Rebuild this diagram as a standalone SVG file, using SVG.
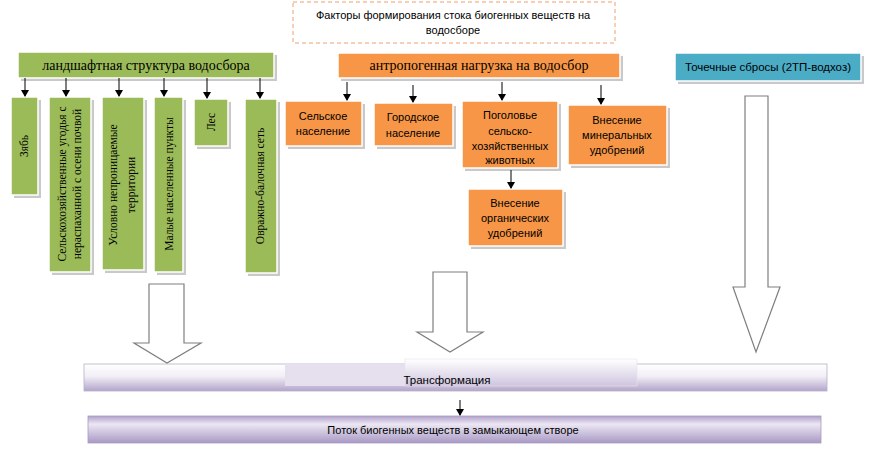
<svg xmlns="http://www.w3.org/2000/svg" width="879" height="463" viewBox="0 0 879 463">
<defs>
<style>
.sh{fill:#c9c9c9}
.g{fill:#9bbb59;stroke:#ffffff;stroke-width:1.5}
.o{fill:#f79646;stroke:#ffffff;stroke-width:1.5}
.b{fill:#4bacc6;stroke:#ffffff;stroke-width:1.5}
.serif{font-family:"Liberation Serif","Times New Roman",serif;fill:#000}
.sans{font-family:"Liberation Sans",Arial,sans-serif;fill:#000}
.ln{stroke:#000;stroke-width:1;fill:none}
.big{fill:#fff;stroke:#7f7f7f;stroke-width:1.2}
</style>
<marker id="ah" markerWidth="8" markerHeight="8" refX="6" refY="4" orient="auto" markerUnits="userSpaceOnUse">
<path d="M0,0 L7,4 L0,8 Z" fill="#000"/>
</marker>
<linearGradient id="gt" x1="0" y1="0" x2="0" y2="1">
<stop offset="0" stop-color="#ffffff"/>
<stop offset="0.45" stop-color="#f2eff6"/>
<stop offset="1" stop-color="#b3a5cc"/>
</linearGradient>
<linearGradient id="gt2" x1="0" y1="0" x2="0" y2="1">
<stop offset="0" stop-color="#ffffff"/>
<stop offset="1" stop-color="#cfc5df"/>
</linearGradient>
<linearGradient id="gp" x1="0" y1="0" x2="0" y2="1">
<stop offset="0" stop-color="#b0a1ca"/>
<stop offset="0.3" stop-color="#ece7f3"/>
<stop offset="1" stop-color="#a899c4"/>
</linearGradient>
</defs>

<g id="title">
<rect x="293" y="2" width="322" height="41" fill="#fff" stroke="#f0a070" stroke-width="1" stroke-dasharray="4,3"/>
<text class="sans" font-size="11" text-anchor="middle" x="453" y="19">Факторы формирования стока биогенных веществ на</text>
<text class="sans" font-size="11" text-anchor="middle" x="453" y="34">водосборе</text>
</g>

<g id="landscape">
<rect class="sh" x="21" y="55" width="256" height="26"/>
<rect class="g" x="18" y="52" width="256" height="26"/>
<text class="serif" font-size="14" text-anchor="middle" x="146" y="70">ландшафтная структура водосбора</text>
</g>

<g id="zyab">
<rect class="sh" x="14" y="100" width="27" height="98"/>
<rect class="g" x="11" y="97" width="27" height="98"/>
<text class="serif" font-size="11.5" text-anchor="middle" transform="translate(28,146) rotate(-90)">Зябь</text>
</g>
<g id="ugodya">
<rect class="sh" x="52" y="100" width="42" height="175"/>
<rect class="g" x="49" y="97" width="42" height="175"/>
<text class="serif" font-size="11.5" text-anchor="middle" transform="translate(66,184) rotate(-90)">Сельскохозяйственные угодья с</text>
<text class="serif" font-size="11.5" text-anchor="middle" transform="translate(81,184) rotate(-90)">нераспаханной с осени почвой</text>
</g>
<g id="usl">
<rect class="sh" x="105" y="100" width="42" height="173"/>
<rect class="g" x="102" y="97" width="42" height="173"/>
<text class="serif" font-size="11.5" text-anchor="middle" transform="translate(117,185) rotate(-90)">Условно непроницаемые</text>
<text class="serif" font-size="11.5" text-anchor="middle" transform="translate(135,185) rotate(-90)">территории</text>
</g>
<g id="malye">
<rect class="sh" x="157" y="100" width="29" height="175"/>
<rect class="g" x="154" y="97" width="29" height="175"/>
<text class="serif" font-size="11.5" text-anchor="middle" transform="translate(173,184) rotate(-90)">Малые населенные пункты</text>
</g>
<g id="les">
<rect class="sh" x="197" y="102" width="34" height="47"/>
<rect class="g" x="194" y="99" width="34" height="47"/>
<text class="serif" font-size="11.5" text-anchor="middle" transform="translate(215,122) rotate(-90)">Лес</text>
</g>
<g id="ovrag">
<rect class="sh" x="248" y="102" width="32" height="174"/>
<rect class="g" x="245" y="99" width="32" height="174"/>
<text class="serif" font-size="11.5" text-anchor="middle" transform="translate(264,186) rotate(-90)">Овражно-балочная сеть</text>
</g>

<g id="anthro">
<rect class="sh" x="341" y="56" width="282" height="25"/>
<rect class="o" x="338" y="53" width="282" height="25"/>
<text class="serif" font-size="14" text-anchor="middle" x="479" y="70">антропогенная нагрузка на водосбор</text>
</g>
<g id="selskoe">
<rect class="sh" x="288" y="104" width="77" height="45"/>
<rect class="o" x="285" y="101" width="77" height="45"/>
<text class="sans" font-size="11" text-anchor="middle" x="323" y="120">Сельское</text>
<text class="sans" font-size="11" text-anchor="middle" x="323" y="135">население</text>
</g>
<g id="gorodskoe">
<rect class="sh" x="377" y="106" width="79" height="43"/>
<rect class="o" x="374" y="103" width="79" height="43"/>
<text class="sans" font-size="11" text-anchor="middle" x="413" y="121">Городское</text>
<text class="sans" font-size="11" text-anchor="middle" x="413" y="137">население</text>
</g>
<g id="pogolovye">
<rect class="sh" x="465" y="104" width="96" height="67"/>
<rect class="o" x="462" y="101" width="96" height="67"/>
<text class="sans" font-size="11" text-anchor="middle" x="510" y="119">Поголовье</text>
<text class="sans" font-size="11" text-anchor="middle" x="510" y="135">сельско-</text>
<text class="sans" font-size="11" text-anchor="middle" x="510" y="150">хозяйственных</text>
<text class="sans" font-size="11" text-anchor="middle" x="510" y="164">животных</text>
</g>
<g id="mineral">
<rect class="sh" x="571" y="108" width="99" height="60"/>
<rect class="o" x="568" y="105" width="99" height="60"/>
<text class="sans" font-size="11" text-anchor="middle" x="617" y="124">Внесение</text>
<text class="sans" font-size="11" text-anchor="middle" x="617" y="139">минеральных</text>
<text class="sans" font-size="11" text-anchor="middle" x="617" y="154">удобрений</text>
</g>
<g id="organic">
<rect class="sh" x="471" y="192" width="95" height="57"/>
<rect class="o" x="468" y="189" width="95" height="57"/>
<text class="sans" font-size="11" text-anchor="middle" x="515" y="207">Внесение</text>
<text class="sans" font-size="11" text-anchor="middle" x="515" y="222">органических</text>
<text class="sans" font-size="11" text-anchor="middle" x="515" y="237">удобрений</text>
</g>

<g id="tochechnye">
<rect class="sh" x="678" y="56" width="186" height="28"/>
<rect class="b" x="675" y="53" width="186" height="28"/>
<text class="sans" font-size="11.5" text-anchor="middle" x="768" y="71">Точечные сбросы (2ТП-водхоз)</text>
</g>

<g id="transform">
<rect x="84" y="364" width="743" height="27" fill="url(#gt)" stroke="#b8b0c8" stroke-width="0.8"/>
<rect x="285" y="364" width="120" height="22" fill="#e6e0ee"/>
<rect x="405" y="359" width="232" height="27" fill="url(#gt2)" stroke="#e6e2ec" stroke-width="0.6"/>
<text class="sans" font-size="11.5" text-anchor="middle" x="447" y="384">Трансформация</text>
</g>

<g id="potok">
<rect x="88" y="416" width="733" height="27" fill="url(#gp)" stroke="#a99cc0" stroke-width="0.8"/>
<text class="sans" font-size="11" text-anchor="middle" x="453" y="434">Поток биогенных веществ в замыкающем створе</text>
</g>

<g id="connectors">
<line class="ln" x1="25" y1="78" x2="25" y2="96" marker-end="url(#ah)"/>
<line class="ln" x1="66" y1="78" x2="66" y2="96" marker-end="url(#ah)"/>
<line class="ln" x1="119" y1="78" x2="119" y2="96" marker-end="url(#ah)"/>
<line class="ln" x1="164" y1="78" x2="164" y2="96" marker-end="url(#ah)"/>
<line class="ln" x1="207" y1="78" x2="207" y2="98" marker-end="url(#ah)"/>
<line class="ln" x1="260" y1="78" x2="260" y2="98" marker-end="url(#ah)"/>
<line class="ln" x1="347" y1="82" x2="347" y2="100" marker-end="url(#ah)"/>
<line class="ln" x1="413" y1="85" x2="413" y2="102" marker-end="url(#ah)"/>
<line class="ln" x1="502" y1="82" x2="502" y2="100" marker-end="url(#ah)"/>
<line class="ln" x1="601" y1="85" x2="601" y2="104" marker-end="url(#ah)"/>
<line class="ln" x1="511" y1="170" x2="511" y2="188" marker-end="url(#ah)"/>
<line class="ln" x1="460" y1="400" x2="460" y2="415" marker-end="url(#ah)"/>
<path class="big" d="M149,284 L184,284 L184,343 L201,343 L167,363 L134,343 L149,343 Z"/>
<path class="big" d="M433,272 L467,272 L467,332 L483,332 L450,352 L417,332 L433,332 Z"/>
<path class="big" d="M745,96 L768,96 L768,287 L780,287 L756,352 L733,287 L745,287 Z"/>
</g>
</svg>
